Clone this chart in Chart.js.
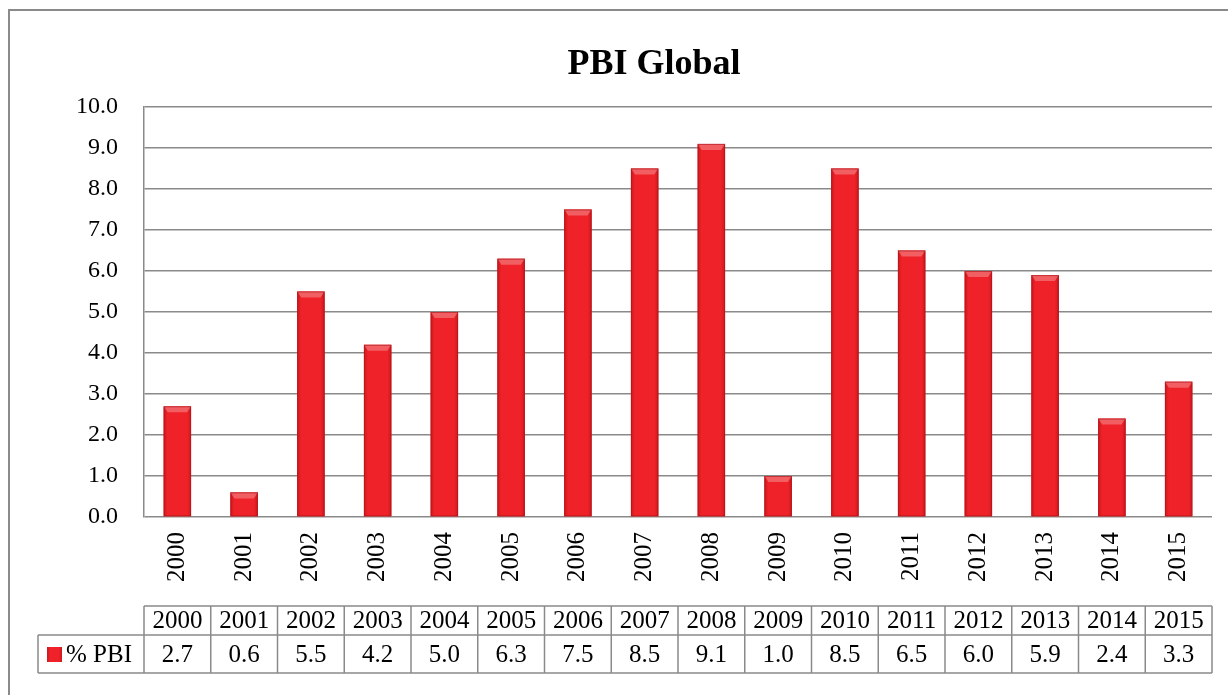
<!DOCTYPE html>
<html>
<head>
<meta charset="utf-8">
<script src="https://cdn.jsdelivr.net/npm/chart.js@4.4.1/dist/chart.umd.min.js"></script>
<style>
  html, body { margin: 0; padding: 0; background: #fff; }
  #wrap { width: 1228px; height: 695px; position: relative; }
</style>
</head>
<body>
<div id="wrap"><canvas id="myChart"></canvas></div>
<script>
// data
const years = ['2000', '2001', '2002', '2003', '2004', '2005', '2006', '2007',
               '2008', '2009', '2010', '2011', '2012', '2013', '2014', '2015'];
const pbiValues = [2.7, 0.6, 5.5, 4.2, 5.0, 6.3, 7.5, 8.5, 9.1, 1.0, 8.5, 6.5, 6.0, 5.9, 2.4, 3.3];
const seriesName = '% PBI';
const chartTitle = 'PBI Global';

const FONT = '"Liberation Serif", "Times New Roman", serif';
const GRID = '#8a8a8a';
const BAR_RED = '#ee2228';

// frame, title, bar bevel and data table below the axis
const extras = {
    id: 'extras',
    beforeDraw(chart) {
        const ctx = chart.ctx;
        ctx.save();
        ctx.fillStyle = '#fff';
        ctx.fillRect(0, 0, chart.width, chart.height);
        ctx.strokeStyle = GRID;
        ctx.lineWidth = 2;
        ctx.strokeRect(9, 10, 1400, 800);
        ctx.restore();
    },
    afterDatasetsDraw(chart) {
        const ctx = chart.ctx;
        ctx.save();
        chart.getDatasetMeta(0).data.forEach(bar => {
            const l = bar.x - bar.width / 2, r = bar.x + bar.width / 2;
            const t = bar.y, b = bar.base;
            const g = ctx.createLinearGradient(l, 0, r, 0);
            g.addColorStop(0, '#c9191f');
            g.addColorStop(0.14, '#ee2228');
            g.addColorStop(0.86, '#ee2228');
            g.addColorStop(1, '#c9191f');
            ctx.fillStyle = g;
            ctx.fillRect(l, t, r - l, b - t);
            const bev = Math.min(6, (b - t) / 2);
            ctx.fillStyle = 'rgba(255,255,255,0.28)';
            ctx.beginPath();
            ctx.moveTo(l, t); ctx.lineTo(r, t);
            ctx.lineTo(r - 4, t + bev); ctx.lineTo(l + 4, t + bev);
            ctx.closePath();
            ctx.fill();
            ctx.strokeStyle = 'rgba(170,20,25,0.6)';
            ctx.lineWidth = 1;
            ctx.strokeRect(l + 0.5, t + 0.5, r - l - 1, b - t - 1);
        });
        ctx.restore();
    },
    afterDraw(chart) {
        const ctx = chart.ctx;
        const xs = chart.scales.x;
        const area = chart.chartArea;
        const half = area.width / years.length / 2;

        ctx.save();
        // title
        ctx.fillStyle = '#000';
        ctx.font = 'bold 36px ' + FONT;
        ctx.textAlign = 'center';
        ctx.textBaseline = 'middle';
        ctx.fillText(chartTitle, 654, 65);

        // table
        const rowTop = 606, rowMid = 635, rowBot = 673;
        const legendLeft = 38;
        ctx.strokeStyle = GRID;
        ctx.lineWidth = 1.5;
        ctx.beginPath();
        ctx.moveTo(area.left, rowTop); ctx.lineTo(area.right, rowTop);
        ctx.moveTo(legendLeft, rowMid); ctx.lineTo(area.right, rowMid);
        ctx.moveTo(legendLeft, rowBot); ctx.lineTo(area.right, rowBot);
        ctx.moveTo(legendLeft, rowMid); ctx.lineTo(legendLeft, rowBot);
        for (let i = 0; i <= years.length; i++) {
            const x = i < years.length ? xs.getPixelForTick(i) - half : xs.getPixelForTick(i - 1) + half;
            ctx.moveTo(x, rowTop); ctx.lineTo(x, rowBot);
        }
        ctx.stroke();

        ctx.fillStyle = '#000';
        ctx.font = '25px ' + FONT;
        years.forEach((y, i) => {
            const cx = xs.getPixelForTick(i);
            ctx.fillText(y, cx, (rowTop + rowMid) / 2 + 1);
            ctx.fillText(pbiValues[i].toFixed(1), cx, (rowMid + rowBot) / 2 + 1);
        });

        // legend key
        const g = ctx.createLinearGradient(47, 0, 62, 0);
        g.addColorStop(0, '#c9191f');
        g.addColorStop(0.2, BAR_RED);
        g.addColorStop(0.8, BAR_RED);
        g.addColorStop(1, '#c9191f');
        ctx.fillStyle = g;
        ctx.fillRect(47, 647, 15, 15);
        ctx.fillStyle = '#000';
        ctx.textAlign = 'left';
        ctx.fillText(seriesName, 66, (rowMid + rowBot) / 2 + 1);
        ctx.restore();
    }
};

const ctx = document.getElementById('myChart').getContext('2d');

new Chart(ctx, {
    type: 'bar',
    data: {
        labels: years,
        datasets: [{
            label: seriesName,
            data: pbiValues,
            backgroundColor: BAR_RED,
            borderWidth: 0,
            barPercentage: 0.41,
            categoryPercentage: 1
        }]
    },
    options: {
        responsive: true,
        maintainAspectRatio: false,
        animation: false,
        layout: {
            padding: { top: 107, left: 44, right: 16, bottom: 0 }
        },
        plugins: {
            legend: { display: false },
            title: { display: false },
            tooltip: { enabled: false }
        },
        scales: {
            x: {
                grid: { display: false, drawTicks: false },
                border: { display: false },
                ticks: {
                    color: '#000',
                    font: { family: FONT, size: 25 },
                    minRotation: 90,
                    maxRotation: 90,
                    padding: 15
                },
                afterFit(scale) { scale.height = 178; }
            },
            y: {
                min: 0,
                max: 10,
                grid: { color: GRID, lineWidth: 1.5, drawTicks: false },
                border: { display: true, color: GRID, width: 1.5 },
                ticks: {
                    stepSize: 1,
                    color: '#000',
                    font: { family: FONT, size: 24 },
                    padding: 26,
                    callback: v => v.toFixed(1)
                },
                afterFit(scale) { scale.width = 100; }
            }
        }
    },
    plugins: [extras]
});
</script>
</body>
</html>
